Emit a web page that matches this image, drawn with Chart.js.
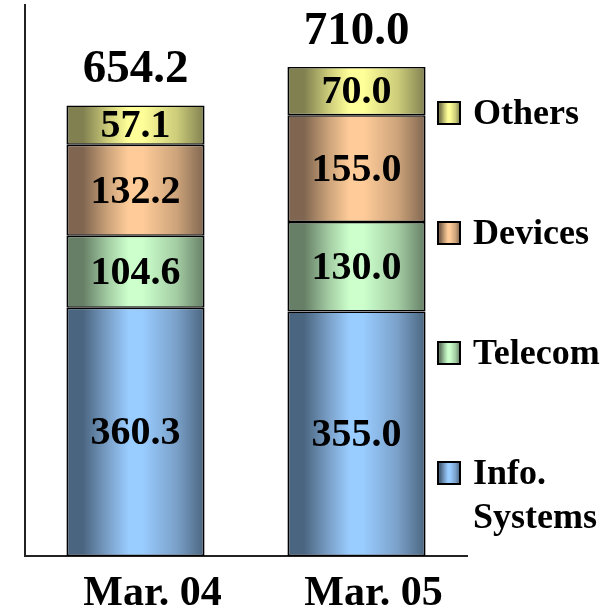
<!DOCTYPE html>
<html>
<head>
<meta charset="utf-8">
<script src="https://cdn.jsdelivr.net/npm/chart.js@4.4.0/dist/chart.umd.min.js"></script>
<style>
  body { margin: 0; background: #fff; }
  #wrap { width: 616px; height: 608px; }
</style>
</head>
<body>
<div id="wrap"><canvas id="myChart"></canvas></div>
<script>
const categories = ['Mar. 04', 'Mar. 05'];
const infoSystems = [360.3, 355.0];
const telecom = [104.6, 130.0];
const devices = [132.2, 155.0];
const others = [57.1, 70.0];
const totals = [654.2, 710.0];
const seriesNames = [['Info.', 'Systems'], ['Telecom'], ['Devices'], ['Others']];

const serif = '"Liberation Serif", "Times New Roman", serif';
const BAR_PCT = 0.625;

// light = centre highlight, dark = shaded edge
const shades = [
  { light: '#99ccff', mid: '#7aa0c8', dark: '#4a6580' },
  { light: '#ccffcc', mid: '#a3cca3', dark: '#667f66' },
  { light: '#ffcc99', mid: '#cca37a', dark: '#806650' },
  { light: '#ffff99', mid: '#cccc7a', dark: '#808050' }
];

function makeGrad(ctx, x0, x1, s) {
  const g = ctx.createLinearGradient(x0, 0, x1, 0);
  g.addColorStop(0, s.dark);
  g.addColorStop(0.12, s.dark);
  g.addColorStop(0.3, s.mid);
  g.addColorStop(0.45, s.light);
  g.addColorStop(0.55, s.light);
  g.addColorStop(0.8, s.mid);
  g.addColorStop(1, s.dark);
  return g;
}

function barFill(i) {
  return function (c) {
    const chart = c.chart;
    const xs = chart.scales.x;
    if (!chart.chartArea || !xs || c.dataIndex === undefined) return shades[i].light;
    const cx = xs.getPixelForValue(c.dataIndex);
    const half = xs.width / categories.length * BAR_PCT / 2;
    return makeGrad(chart.ctx, cx - half, cx + half, shades[i]);
  };
}

const valueLabels = {
  id: 'valueLabels',
  afterDatasetsDraw(chart) {
    const ctx = chart.ctx;
    ctx.save();
    ctx.fillStyle = '#000';
    ctx.textAlign = 'center';
    chart.data.datasets.forEach((ds, di) => {
      const meta = chart.getDatasetMeta(di);
      meta.data.forEach((el, j) => {
        ctx.font = 'bold 40px ' + serif;
        ctx.textBaseline = 'middle';
        ctx.fillText(ds.data[j].toFixed(1), el.x, (el.y + el.base) / 2 + 2);
        if (di === chart.data.datasets.length - 1) {
          ctx.font = 'bold 47px ' + serif;
          ctx.textBaseline = 'alphabetic';
          ctx.fillText(totals[j].toFixed(1), el.x, el.y - 23);
        }
      });
    });
    ctx.restore();
  }
};

const sideLegend = {
  id: 'sideLegend',
  afterDraw(chart) {
    const ctx = chart.ctx;
    const area = chart.chartArea;
    const bx = area.right - 29, size = 22;
    ctx.save();
    ctx.font = 'bold 36px ' + serif;
    ctx.textBaseline = 'middle';
    ctx.textAlign = 'left';
    for (let k = 0; k < seriesNames.length; k++) {
      const i = seriesNames.length - 1 - k;
      const cy = 113 + k * 120;
      ctx.fillStyle = makeGrad(ctx, bx, bx + size, shades[i]);
      ctx.fillRect(bx, cy - size / 2, size, size);
      ctx.lineWidth = 2;
      ctx.strokeStyle = '#000';
      ctx.strokeRect(bx, cy - size / 2, size, size);
      ctx.fillStyle = '#000';
      seriesNames[i].forEach((t, n) => ctx.fillText(t, bx + 35, cy + 2 + n * 44));
    }
    ctx.restore();
  }
};

const mk = (label, data, i) => ({
  label: label,
  data: data,
  backgroundColor: barFill(i),
  borderColor: '#000',
  borderWidth: { top: 1.5, bottom: 1.5, left: 2, right: 2 },
  borderSkipped: false,
  barPercentage: BAR_PCT,
  categoryPercentage: 1
});

new Chart(document.getElementById('myChart'), {
  type: 'bar',
  data: {
    labels: categories,
    datasets: [
      mk('Info. Systems', infoSystems, 0),
      mk('Telecom', telecom, 1),
      mk('Devices', devices, 2),
      mk('Others', others, 3)
    ]
  },
  options: {
    responsive: true,
    maintainAspectRatio: false,
    animation: false,
    layout: { padding: { left: 25, right: 149, top: 5, bottom: -16 } },
    plugins: { legend: { display: false }, tooltip: { enabled: false } },
    scales: {
      x: {
        stacked: true,
        grid: { display: false },
        border: { display: true, color: '#222', width: 2 },
        ticks: { color: '#000', padding: 9, labelOffset: 17, font: { family: serif, size: 42, weight: 'bold', lineHeight: 1.0 } }
      },
      y: {
        stacked: true,
        min: 0,
        max: 800,
        grid: { display: false },
        border: { display: true, color: '#222', width: 2 },
        ticks: { display: false },
        afterFit: (s) => { s.width = 0; }
      }
    }
  },
  plugins: [valueLabels, sideLegend]
});
</script>
</body>
</html>
